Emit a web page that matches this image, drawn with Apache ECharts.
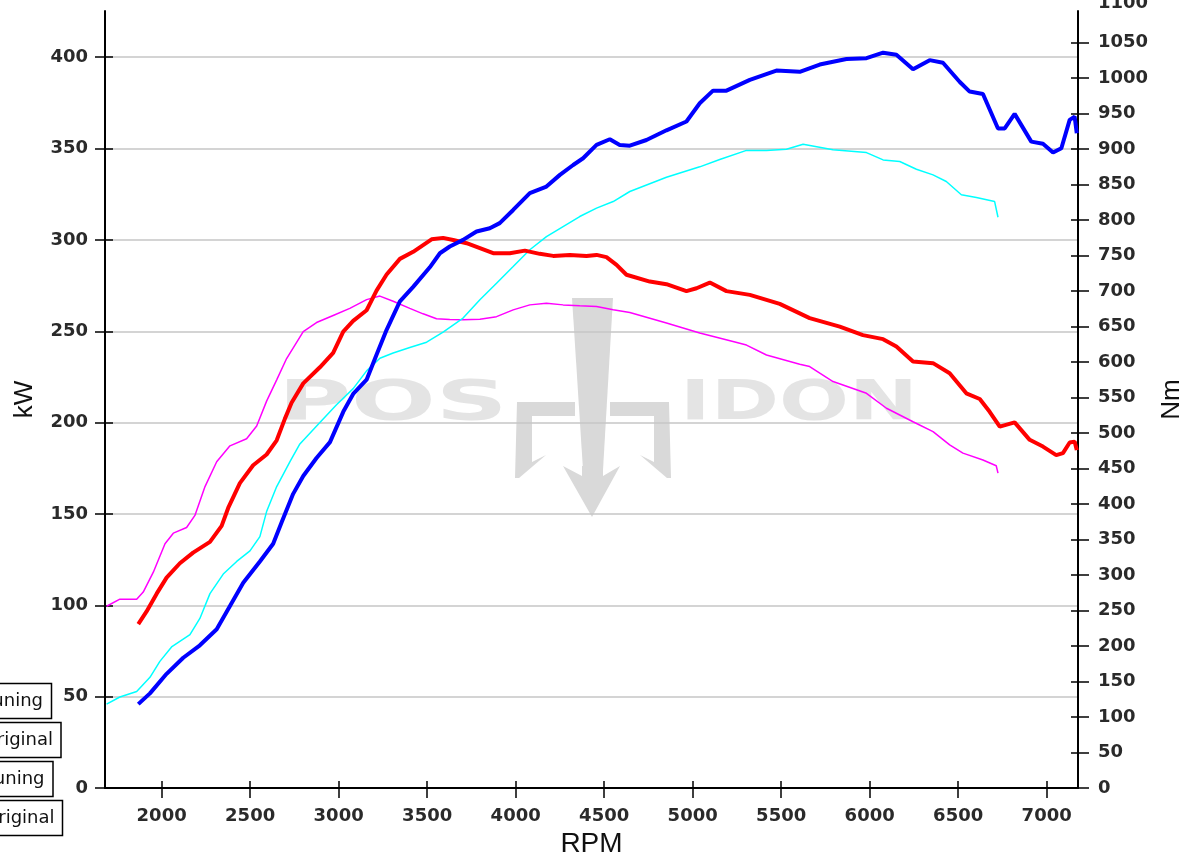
<!DOCTYPE html>
<html>
<head>
<meta charset="utf-8">
<script src="https://cdn.jsdelivr.net/npm/echarts@6/dist/echarts.min.js"></script>
<style>
html,body{margin:0;padding:0;background:#fff;}
#chart{width:1188px;height:856px;}
</style>
</head>
<body>
<div id="chart"></div>
<script>
// ---- Data ----
var rpmTicks = [2000, 2500, 3000, 3500, 4000, 4500, 5000, 5500, 6000, 6500, 7000];
var kwTicks = [0, 50, 100, 150, 200, 250, 300, 350, 400];
var nmTicks = [0, 50, 100, 150, 200, 250, 300, 350, 400, 450, 500, 550, 600, 650, 700, 750, 800, 850, 900, 950, 1000, 1050];
var nmTopLabel = '1100';

var legendNames = ['kW Tuning', 'kW Original', 'Nm Tuning', 'Nm Original'];

// kW Tuning (blue, left axis)
var kwTuningRpm = [1868,1934,2028,2122,2216,2311,2386,2461,2555,2630,2678,2743,2800,2875,2951,3026,3082,3158,3214,3271,3346,3421,3515,3572,3628,3703,3779,3854,3910,3986,4080,4174,4250,4325,4381,4457,4532,4588,4645,4739,4852,4965,5040,5115,5191,5323,5473,5605,5718,5869,5982,6076,6151,6245,6339,6414,6508,6565,6640,6725,6763,6819,6913,6979,7036,7083,7130,7158,7170];
var kwTuningVal = [45.9,51.8,62.5,71.3,78.1,86.9,99.6,112.3,124,133.7,145.4,161,170.8,180.6,189.3,205.9,215.7,223.5,237.2,250.8,266.4,274.3,285,292.7,296.4,300,304.6,306.4,309.2,316.4,325.6,329.2,335.6,341,344.7,352,355.1,352,351.6,354.7,360,364.8,374.8,381.7,381.7,387.6,392.7,392,396,399,399.5,402.5,401.3,393.4,398.4,397,386.6,381.2,379.9,361,361,369,353.8,352.6,347.8,350.2,365.7,367.5,358.4];

// kW Original (cyan, left axis)
var kwOrigRpm = [1689,1764,1859,1934,1990,2056,2160,2216,2273,2348,2424,2499,2555,2593,2650,2725,2781,2894,2988,3082,3158,3233,3308,3402,3497,3590,3703,3798,3892,3986,4080,4174,4268,4362,4457,4551,4645,4852,5040,5153,5304,5417,5530,5624,5793,5982,6076,6170,6264,6358,6433,6518,6603,6706,6725];
var kwOrigVal = [45.9,49.8,52.8,60.6,69.3,77.2,84,92.8,106.4,117.1,124,129.8,137.6,151.3,165,178.6,188.3,200,209.8,218.6,228.3,235.2,238.1,241.1,244,249.5,257.2,267.2,276.3,285.4,294.6,301.8,307.3,312.8,317.4,321,326.5,334.3,340,344,349,349,349.6,352.4,349.3,347.8,343.8,342.9,338.7,335.6,332,324.7,323.2,321,312.4];

// Nm Tuning (red, right axis)
var nmTuningRpm = [1868,1915,1972,2028,2103,2178,2273,2339,2376,2442,2517,2593,2650,2696,2734,2800,2894,2969,3026,3082,3158,3214,3271,3346,3421,3525,3590,3647,3723,3798,3873,3967,4052,4136,4212,4306,4400,4457,4513,4570,4626,4758,4852,4965,5022,5097,5191,5323,5492,5661,5831,5962,6076,6151,6245,6358,6452,6546,6622,6678,6735,6819,6904,6979,7054,7092,7130,7158,7170];
var nmTuningVal = [231,248.7,273.8,296.4,316.6,331.6,346.7,369.2,394.5,429.5,454.7,469.8,489.8,520,542.6,570,592.7,612.9,643,658,673,700.7,723.4,745.4,755.4,773,775,772,767.5,760.5,753.4,753.4,757,752.5,749.6,751,749.6,751,747.8,737,723,713.4,709.7,700,704,712,700,694.7,682,662,650,638,632.3,622,600.8,598.5,584.4,556,548,530,509,515,490.5,481,469,471.8,486.7,488,476];

// Nm Original (magenta, right axis)
var nmOrigRpm = [1689,1764,1859,1896,1953,2019,2066,2141,2188,2245,2311,2386,2480,2537,2593,2650,2706,2800,2875,2969,3063,3158,3233,3308,3402,3477,3553,3628,3703,3798,3892,3986,4080,4174,4268,4362,4457,4551,4645,4852,5040,5228,5304,5417,5605,5661,5793,5982,6095,6245,6358,6452,6527,6640,6715,6725];
var nmOrigVal = [256,266,266,276,304,344,359,367,384,424.6,459.6,482,492,510,545,575,605,643,655.7,665.7,675.7,688,693,685.7,675.7,668,661,660,659.5,660.5,664,673.6,680.6,683,680.6,679.2,678.2,673.6,669.8,655,641,629,624,610,597,593.7,572.6,556,535,516,502,483.4,471.8,462,453.9,443.6];

function zip(xs, ys) { return xs.map(function (x, i) { return [x, ys[i]]; }); }
function plain(v) { return String(v); }

// ---- Layout constants ----
var GRID = { left: 105, right: 110, top: 11, bottom: 68, containLabel: false, outerBoundsMode: 'none' };
var labelFont = { fontFamily: 'DejaVu Sans', fontSize: 18, fontWeight: 'bold', color: '#2a2a2a', formatter: plain };
var axisLineStyle = { color: '#000', width: 2 };
var tickStyle = { color: '#000', width: 1.5 };

var chart = echarts.init(document.getElementById('chart'), null, { renderer: 'canvas' });

function legendBox(i, top, right, textRight) {
  return [{
    type: 'rect', z: 100,
    shape: { x: right - 200, y: top, width: 200, height: 35 },
    style: { fill: '#fff', stroke: '#000', lineWidth: 1.5 }
  }, {
    type: 'text', z: 101,
    style: {
      x: textRight, y: top + 18, text: legendNames[i], align: 'right', verticalAlign: 'middle',
      fontFamily: 'DejaVu Sans', fontSize: 18, fill: '#111'
    }
  }];
}

var wmColor = '#d9d9d9';
var wmText = '#e4e4e4';
var graphics = [].concat(
  // watermark (trident + lettering)
  [{
    type: 'group', z: -10, silent: true,
    children: [
      { type: 'polygon', shape: { points: [[572,298],[613,298],[603,470],[583,470]] }, style: { fill: wmColor } },
      { type: 'polygon', shape: { points: [[563,466],[582,476],[582,466],[603,466],[603,476],[620,466],[592,517]] }, style: { fill: wmColor } },
      { type: 'polygon', shape: { points: [[517,402],[575,402],[575,416],[532,416],[532,462],[546,455],[519,478],[515,478]] }, style: { fill: wmColor } },
      { type: 'polygon', shape: { points: [[610,402],[669,402],[671,478],[667,478],[640,455],[654,462],[654,416],[610,416]] }, style: { fill: wmColor } },
      { type: 'text', style: { x: 278, y: 404, text: 'POS', fontFamily: 'DejaVu Sans', fontWeight: 'bold', fontSize: 56, fill: wmText, verticalAlign: 'middle' }, scaleX: 1.78, originX: 278 },
      { type: 'text', style: { x: 680, y: 404, text: 'IDON', fontFamily: 'DejaVu Sans', fontWeight: 'bold', fontSize: 56, fill: wmText, verticalAlign: 'middle' }, scaleX: 1.47, originX: 680 }
    ]
  }],
  legendBox(0, 683.5, 51.5, 43),
  legendBox(1, 722.5, 61, 53),
  legendBox(2, 761.5, 53, 44.5),
  legendBox(3, 800.5, 62.5, 54.5),
  [{
    type: 'text', z: 50,
    style: { x: 1098, y: 3, text: nmTopLabel, verticalAlign: 'middle', fontFamily: 'DejaVu Sans', fontSize: 18, fontWeight: 'bold', fill: '#2a2a2a' }
  }]
);

var option = {
  backgroundColor: '#fff',
  animation: false,
  grid: GRID,
  graphic: graphics,
  xAxis: [{
    type: 'value', min: 1680, max: 7177, position: 'bottom',
    name: 'RPM', nameLocation: 'middle', nameGap: 41,
    nameTextStyle: { fontFamily: 'Liberation Sans', fontSize: 28, color: '#111' },
    axisLine: { show: true, onZero: false, lineStyle: axisLineStyle },
    axisTick: { show: true, inside: false, length: 10, lineStyle: tickStyle, customValues: rpmTicks },
    axisLabel: Object.assign({ margin: 19, customValues: rpmTicks }, labelFont),
    splitLine: { show: false }
  }, {
    type: 'value', min: 1680, max: 7177, position: 'bottom',
    axisLine: { show: false },
    axisTick: { show: true, inside: true, length: 7, lineStyle: tickStyle, customValues: rpmTicks },
    axisLabel: { show: false },
    splitLine: { show: false }
  }],
  yAxis: [{
    type: 'value', min: 0, max: 425.3, position: 'left',
    name: 'kW', nameLocation: 'middle', nameGap: 67, nameRotate: 90,
    nameTextStyle: { fontFamily: 'Liberation Sans', fontSize: 26, color: '#111' },
    axisLine: { show: true, onZero: false, lineStyle: axisLineStyle },
    axisTick: { show: true, inside: false, length: 10, lineStyle: tickStyle, customValues: kwTicks },
    axisLabel: Object.assign({ margin: 17, customValues: kwTicks }, labelFont),
    splitLine: { show: true, lineStyle: { color: '#c6c6c6', width: 1.5 } }
  }, {
    type: 'value', min: 0, max: 1094.6, position: 'right',
    name: 'Nm', nameLocation: 'middle', nameGap: 80, nameRotate: 90,
    nameTextStyle: { fontFamily: 'Liberation Sans', fontSize: 26, color: '#111' },
    axisLine: { show: true, onZero: false, lineStyle: axisLineStyle },
    axisTick: { show: true, inside: false, length: 11, lineStyle: tickStyle, customValues: nmTicks },
    axisLabel: Object.assign({ margin: 20, customValues: nmTicks }, labelFont),
    splitLine: { show: false }
  }, {
    type: 'value', min: 0, max: 425.3, position: 'left', offset: 0,
    axisLine: { show: false },
    axisTick: { show: true, inside: true, length: 8, lineStyle: tickStyle, customValues: kwTicks },
    axisLabel: { show: false },
    splitLine: { show: false }
  }, {
    type: 'value', min: 0, max: 1094.6, position: 'right', offset: 0,
    axisLine: { show: false },
    axisTick: { show: true, inside: true, length: 7, lineStyle: tickStyle, customValues: nmTicks },
    axisLabel: { show: false },
    splitLine: { show: false }
  }],
  series: [{
    name: legendNames[3], type: 'line', xAxisIndex: 0, yAxisIndex: 1,
    data: zip(nmOrigRpm, nmOrigVal), showSymbol: false, symbol: 'none',
    lineStyle: { color: '#ff00ff', width: 1.5 }, z: 3
  }, {
    name: legendNames[1], type: 'line', xAxisIndex: 0, yAxisIndex: 0,
    data: zip(kwOrigRpm, kwOrigVal), showSymbol: false, symbol: 'none',
    lineStyle: { color: '#00ffff', width: 1.5 }, z: 3
  }, {
    name: legendNames[2], type: 'line', xAxisIndex: 0, yAxisIndex: 1,
    data: zip(nmTuningRpm, nmTuningVal), showSymbol: false, symbol: 'none',
    lineStyle: { color: '#ff0000', width: 4 }, z: 4
  }, {
    name: legendNames[0], type: 'line', xAxisIndex: 0, yAxisIndex: 0,
    data: zip(kwTuningRpm, kwTuningVal), showSymbol: false, symbol: 'none',
    lineStyle: { color: '#0000ff', width: 4 }, z: 4
  }]
};

chart.setOption(option);
</script>
</body>
</html>
